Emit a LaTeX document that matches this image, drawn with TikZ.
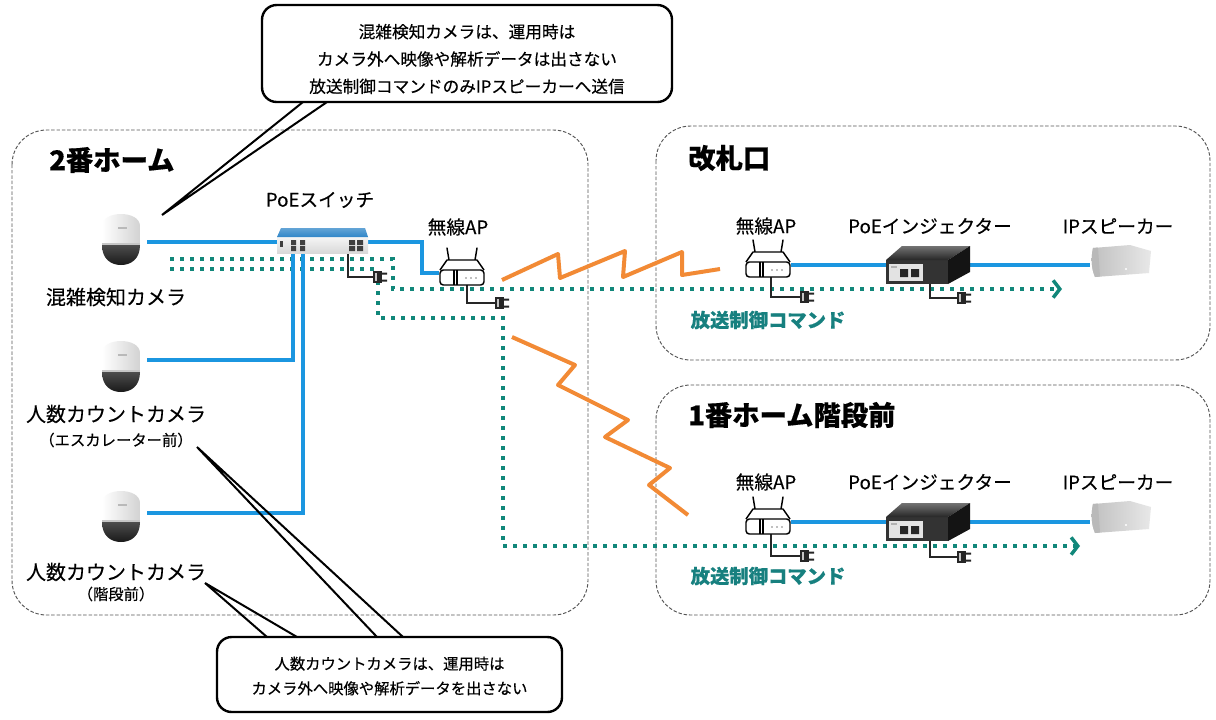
\documentclass[tikz,border=0pt]{standalone}
\usepackage{fontspec}
\setmainfont{Noto Sans CJK JP}[FakeBold=0.35]
\usetikzlibrary{arrows.meta}

\definecolor{lanblue}{HTML}{1B96E0}
\definecolor{cmdgreen}{HTML}{11877A}
\definecolor{cmdtext}{HTML}{17807F}
\definecolor{rforange}{HTML}{F28A35}
\definecolor{swblue}{HTML}{2F86C8}
\definecolor{framegray}{HTML}{555555}

\tikzset{
  groupbox/.style={draw=framegray, line width=0.7pt, dash pattern=on 2.6pt off 1.4pt, rounded corners=26pt},
  heading/.style={font=\fontsize{20.5}{24}\selectfont\bfseries, inner sep=0, anchor=west},
  devlabel/.style={font=\fontsize{14}{16}\selectfont, inner sep=0},
  camlabel/.style={font=\fontsize{15}{17}\selectfont, inner sep=0},
  sublabel/.style={font=\fontsize{11.5}{13}\selectfont, inner sep=0},
  cmdlabel/.style={font=\fontsize{14.5}{16}\selectfont\bfseries, text=cmdtext, inner sep=0},
  note/.style={draw=black, line width=1.8pt, rounded corners=11pt, fill=white, inner sep=0},
  notetext/.style={align=center, inner sep=0},
  pointer/.style={draw=black, line width=1.5pt},
  lan/.style={draw=lanblue, line width=3pt},
  cmdpath/.style={draw=cmdgreen, line width=3pt, dash pattern=on 3pt off 4.5pt,
    -{Straight Barb[length=5pt,width=13pt,line width=2.6pt]}},
  rf/.style={draw=rforange, line width=3pt, line join=round},
  cord/.style={draw=black!85, line width=1pt},
  device/.style={inner sep=0, outer sep=0},
  % dome camera: white housing over a dark dome
  pics/domecam/.style={code={
    \shade[left color=white, right color=gray!35]
      (-19,5) -- (-19,-14) .. controls (-19,-30) and (19,-30) .. (19,-14) -- (19,5) -- cycle;
    \fill[gray!45] (-19,3) rectangle (19,6);
    \shade[top color=gray!60!black, bottom color=black!90]
      (-19,5) .. controls (-19,19) and (-10,25) .. (0,25) .. controls (10,25) and (19,19) .. (19,5) -- cycle;
    \fill[gray!55] (-3,-13) rectangle (6,-11);
  }},
  % wireless access point outline icon
  pics/apicon/.style={code={
    \draw[black, line width=1.1pt, line cap=round] (-13,-13) -- (-15,-25) (13,-13) -- (15,-25);
    \draw[black, line width=1.1pt, fill=white, line join=round] (-22,-3) -- (-15,-13) -- (15,-13) -- (22,-3);
    \draw[black, line width=1.1pt, fill=white, rounded corners=2.5pt] (-22,-3) rectangle (22,12);
    \draw[black, line width=0.8pt] (-8,-3) -- (-8,12) (-5,-3) -- (-5,12);
    \fill[gray] (4,5) circle[radius=0.6pt] (9,5) circle[radius=0.6pt] (14,5) circle[radius=0.6pt];
  }},
  % PoE switch with blue top plate
  pics/swicon/.style={code={
    \shade[top color=gray!8, bottom color=gray!30] (-45,-5) rectangle (46,11);
    \shade[top color=swblue!75, bottom color=swblue] (-41,-14) -- (43,-14) -- (46,-5) -- (-45,-5) -- cycle;
    \fill[black!75] (-42,-1) rectangle (-39,5);
    \fill[black!75] (-31,-2) rectangle (-26,3) (-22,-2) rectangle (-17,3)
                    (-31,4) rectangle (-26,9) (-22,4) rectangle (-17,9);
    \fill[black!75] (27,-2) rectangle (33,3) (35,-2) rectangle (41,3)
                    (27,4) rectangle (33,9) (35,4) rectangle (41,9);
  }},
  % PoE injector box
  pics/injicon/.style={code={
    \fill[black!80] (-42,-5) rectangle (20,19);
    \shade[top color=black!55, bottom color=black!85] (-42,-5) -- (-26,-19) -- (42,-19) -- (20,-5) -- cycle;
    \fill[black!92] (20,-5) -- (42,-19) -- (42,7) -- (20,19) -- cycle;
    \fill[gray!22] (-39,-1) rectangle (-5,16);
    \fill[black!85] (-28,4) rectangle (-20,12) (-17,4) rectangle (-9,12);
    \fill[gray!60] (-37,1) rectangle (-31,3);
  }},
  % IP speaker
  pics/spkicon/.style={code={
    \shade[left color=gray!50, right color=gray!18]
      (-27,-15) -- (10,-18) -- (31,-12) -- (29,10) -- (-25,14) .. controls (-29,5) and (-29,-6) .. cycle;
    \fill[gray!55] (-27,-15) -- (-22,-15.5) -- (-20,13.5) -- (-25,14) .. controls (-29,5) and (-29,-6) .. cycle;
    \fill[white] (6,6) circle[radius=0.8pt];
  }},
  % mains plug
  pics/plugicon/.style={code={
    \fill[black!85] (0,-6) rectangle (9,6);
    \fill[gray!45] (2,-4) rectangle (3.5,4);
    \fill[black!85] (9,-4.5) rectangle (14,-2.5) (9,2.5) rectangle (14,4.5);
  }},
}

\begin{document}
\begin{tikzpicture}[x=0.75pt, y=-0.75pt]
\fill[white] (0,0) rectangle (1216,719);
\useasboundingbox (0,0) rectangle (1216,719);

% ---- areas ----
\draw[groupbox] (12,130) rectangle (588,615);
\draw[groupbox] (656,126) rectangle (1210,360);
\draw[groupbox] (656,385) rectangle (1210,615);
\node[heading] (hplat2) at (49,160) {2番ホーム};
\node[heading] (hgate) at (688,158) {改札口};
\node[heading] (hplat1) at (688,415) {1番ホーム階段前};

% ---- device anchors ----
\node[device, minimum width=39pt, minimum height=24pt] (cam1) at (121,242) {};
\node[device, minimum width=39pt, minimum height=24pt] (cam2) at (121,360) {};
\node[device, minimum width=39pt, minimum height=24pt] (cam3) at (121,513) {};
\node[device, minimum width=68.25pt, minimum height=19.5pt] (sw) at (322,242) {};
\node[device, minimum width=34.5pt, minimum height=12pt] (ap1) at (462,273) {};
\node[device, minimum width=34.5pt, minimum height=12pt] (ap2) at (768,265) {};
\node[device, minimum width=63pt, minimum height=28.5pt] (inj1) at (928,265) {};
\node[device, minimum width=45pt, minimum height=28.5pt] (spk1) at (1120,263) {};
\node[device, minimum width=34.5pt, minimum height=12pt] (ap3) at (768,522) {};
\node[device, minimum width=63pt, minimum height=28.5pt] (inj2) at (928,522) {};
\node[device, minimum width=45pt, minimum height=28.5pt] (spk2) at (1120,519) {};

\coordinate (swP2) at (293,250);
\coordinate (swP3) at (303,250);
\coordinate (swR) at (363,242);
\coordinate (swPwr) at (348,253);
\coordinate (ap1Pwr) at (467,285);
\coordinate (ap2Pwr) at (771,277);
\coordinate (ap3Pwr) at (771,534);
\coordinate (inj1Pwr) at (930,284);
\coordinate (inj2Pwr) at (930,541);
\coordinate (plugSw) at (373,277);
\coordinate (plugAp1) at (495,303);
\coordinate (plugAp2) at (800,297);
\coordinate (plugInj1) at (957,298);
\coordinate (plugAp3) at (800,556);
\coordinate (plugInj2) at (957,557);

% ---- wireless links ----
\coordinate (rfA0) at (502,280);
\coordinate (rfA1) at (720,269);
\coordinate (rfB0) at (512,337);
\coordinate (rfB1) at (688,515);
\draw[rf] (rfA0) -- (558,254) -- (560,278) -- (625,251) -- (623,277) -- (682,252) -- (682,275) -- (rfA1);
\draw[rf] (rfB0) -- (575,365) -- (558,385) -- (628,420) -- (605,437) -- (670,468) -- (649,485) -- (rfB1);

% ---- broadcast control command routes ----
\coordinate (cmdA0) at (170,259);
\coordinate (cmdA1) at (1062,289);
\coordinate (cmdB0) at (170,269);
\coordinate (cmdB1) at (1080,546);
\draw[cmdpath] (cmdA0) -- (393,259) -- (393,289) -- (cmdA1);
\draw[cmdpath] (cmdB0) -- (378,269) -- (378,318) -- (503,318) -- (503,546) -- (cmdB1);

% ---- power cords ----
\draw[cord] (swPwr) |- (plugSw);
\draw[cord] (ap1Pwr) |- (plugAp1);
\draw[cord] (ap2Pwr) |- (plugAp2);
\draw[cord] (inj1Pwr) |- (plugInj1);
\draw[cord] (ap3Pwr) |- (plugAp3);
\draw[cord] (inj2Pwr) |- (plugInj2);

% ---- LAN cables ----
\draw[lan] (cam1.east) -- (sw.west);
\draw[lan] (cam2.east) -| (swP2);
\draw[lan] (cam3.east) -| (swP3);
\draw[lan] (swR) -- (422,242) |- (ap1.west);
\draw[lan] (ap2.east) -- (inj1.west);
\draw[lan] (inj1.east) -- (inj1.east -| spk1.west);
\draw[lan] (ap3.east) -- (inj2.west);
\draw[lan] (inj2.east) -- (inj2.east -| spk2.west);

% ---- device icons ----
\pic at (121,240) {domecam};
\pic at (121,367) {domecam};
\pic at (121,517) {domecam};
\pic at (sw) {swicon};
\pic at (ap1) {apicon};
\pic at (ap2) {apicon};
\pic at (ap3) {apicon};
\pic at (inj1) {injicon};
\pic at (inj2) {injicon};
\pic at (spk1) {spkicon};
\pic at (spk2) {spkicon};
\pic at (plugSw) {plugicon};
\pic at (plugAp1) {plugicon};
\pic at (plugAp2) {plugicon};
\pic at (plugInj1) {plugicon};
\pic at (plugAp3) {plugicon};
\pic at (plugInj2) {plugicon};

% ---- labels ----
\node[camlabel] (cam1lbl) at (116,297) {混雑検知カメラ};
\node[camlabel] (cam2lbl) at (116,414) {人数カウントカメラ};
\node[sublabel] (cam2sub) at (116,440) {（エスカレーター前）};
\node[camlabel] (cam3lbl) at (116,572) {人数カウントカメラ};
\node[sublabel] (cam3sub) at (116,594) {（階段前）};
\node[devlabel] (swlbl) at (320,200) {PoEスイッチ};
\node[devlabel] (ap1lbl) at (458,227) {無線AP};
\node[devlabel] (ap2lbl) at (766,226) {無線AP};
\node[devlabel] (inj1lbl) at (930,226) {PoEインジェクター};
\node[devlabel] (spk1lbl) at (1118,226) {IPスピーカー};
\node[devlabel] (ap3lbl) at (766,482) {無線AP};
\node[devlabel] (inj2lbl) at (930,482) {PoEインジェクター};
\node[devlabel] (spk2lbl) at (1118,482) {IPスピーカー};
\node[cmdlabel] (cmd1lbl) at (768,320) {放送制御コマンド};
\node[cmdlabel] (cmd2lbl) at (768,576) {放送制御コマンド};

% ---- callouts ----
\coordinate (n1tip) at (162,215);
\coordinate (n1a) at (303,102);
\coordinate (n1b) at (327,102);
\draw[pointer] (n1a) -- (n1tip) -- (n1b);
\node[note, minimum width=307.5pt, minimum height=72.75pt] (note1) at (467,53.5) {};
\node[notetext, font=\fontsize{12.5}{20.5}\selectfont] (note1txt) at (467,59)
  {混雑検知カメラは、運用時は\\カメラ外へ映像や解析データは出さない\\放送制御コマンドのみIPスピーカーへ送信};

\coordinate (n2tipA) at (205,583);
\coordinate (n2tipB) at (197,447);
\coordinate (n2a) at (267,637);
\coordinate (n2b) at (297,637);
\coordinate (n2c) at (377,637);
\coordinate (n2d) at (403,637);
\draw[pointer] (n2a) -- (n2tipA) -- (n2b);
\draw[pointer] (n2c) -- (n2tipB) -- (n2d);
\node[note, minimum width=258.75pt, minimum height=56.25pt] (note2) at (389.5,674.5) {};
\node[notetext, font=\fontsize{11.5}{18.5}\selectfont] (note2txt) at (389.5,676)
  {人数カウントカメラは、運用時は\\カメラ外へ映像や解析データを出さない};
\end{tikzpicture}
\end{document}
